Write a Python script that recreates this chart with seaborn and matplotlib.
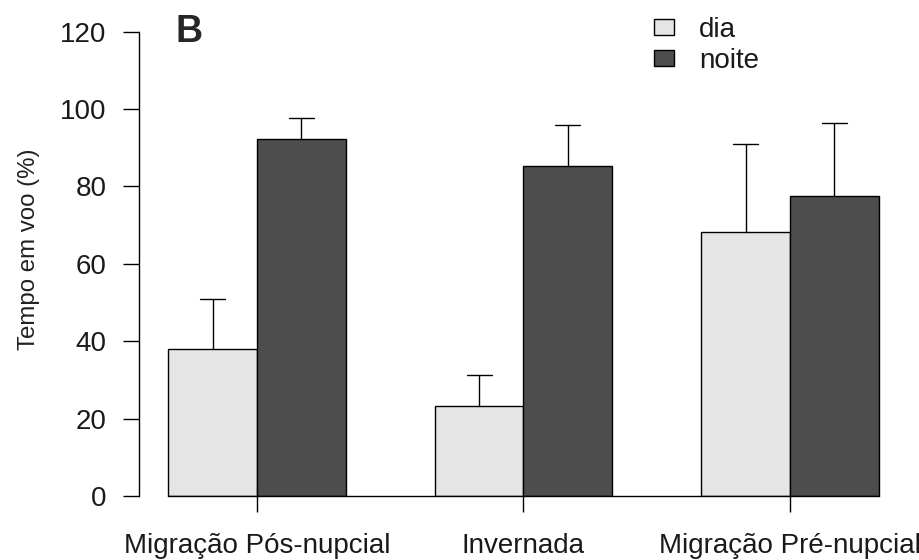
import matplotlib
matplotlib.use("Agg")
import matplotlib.pyplot as plt
from matplotlib.patches import Patch
import seaborn as sns
import pandas as pd

# ---- data ----
categories = ["Migração Pós-nupcial", "Invernada", "Migração Pré-nupcial"]
periods = ["dia", "noite"]
dia = [38.0, 23.3, 68.1]
noite = [92.3, 85.3, 77.5]
dia_err = [13.0, 8.0, 22.8]
noite_err = [5.4, 10.5, 18.8]
yticks = [0, 20, 40, 60, 80, 100, 120]
ylabel = "Tempo em voo (%)"
panel = "B"
colors = ["#e5e5e5", "#4d4d4d"]

df = pd.DataFrame({
    "fase": categories * 2,
    "periodo": ["dia"] * 3 + ["noite"] * 3,
    "valor": dia + noite,
})
errs = {"dia": dia_err, "noite": noite_err}

sns.set_style("ticks")
plt.rcParams["font.family"] = ["Liberation Sans", "DejaVu Sans"]

fig = plt.figure(figsize=(9.2, 5.6), dpi=100)
W, H = 920, 560
ax_l, ax_r, ax_t, ax_b = 139, 905, 31.6, 496
ax = fig.add_axes([ax_l / W, (H - ax_b) / H, (ax_r - ax_l) / W, (ax_b - ax_t) / H])

sns.barplot(data=df, x="fase", y="valor", hue="periodo", order=categories,
            hue_order=periods, palette=colors, edgecolor="black", linewidth=1.0,
            width=2 / 3, errorbar=None, legend=False, saturation=1, ax=ax)

# error bars (upper only)
lefts, rights = [], []
for cont, per in zip(ax.containers, periods):
    for bar, e in zip(cont, errs[per]):
        x = bar.get_x() + bar.get_width() / 2
        top = bar.get_height()
        hw = bar.get_width() * 0.14
        ax.plot([x, x], [top, top + e], color="black", lw=1.0, clip_on=False, zorder=3)
        ax.plot([x - hw, x + hw], [top + e, top + e], color="black", lw=1.0, clip_on=False, zorder=3)
        lefts.append(bar.get_x())
        rights.append(bar.get_x() + bar.get_width())

ax.set_xlim(-118 / 266.5, 648 / 266.5)
ax.set_ylim(0, 120)
ax.set_yticks(yticks)
ax.set_yticklabels([str(t) for t in yticks], fontsize=20)
ax.set_xticks(range(len(categories)))
ax.set_xticklabels(categories, fontsize=20)
ax.set_xlabel("")
ax.set_ylabel(ylabel, fontsize=17.3, color="#222222")
ax.yaxis.set_label_coords((40 - ax_l) / (ax_r - ax_l), (ax_b - 249) / (ax_b - ax_t))

for s in ["top", "right"]:
    ax.spines[s].set_visible(False)
ax.spines["left"].set_bounds(0, 120)
ax.spines["bottom"].set_bounds(min(lefts), max(rights))
for s in ["left", "bottom"]:
    ax.spines[s].set_linewidth(1.0)
    ax.spines[s].set_color("black")
ax.tick_params(axis="both", length=11.5, width=1.0, color="black", labelcolor="#1a1a1a")
ax.tick_params(axis="y", pad=12)
ax.tick_params(axis="x", pad=15)

# panel letter
fig.text(175 / W, 1 - 14 / H, panel, fontsize=27, fontweight="bold", ha="left", va="top")

# legend
handles = [Patch(facecolor=c, edgecolor="black", linewidth=1.0) for c in colors]
leg = ax.legend(handles, periods, loc="upper left",
                bbox_to_anchor=(654 / W, 1 - 17 / H), bbox_transform=fig.transFigure,
                frameon=False, fontsize=20, handlelength=0.71, handleheight=0.54,
                handletextpad=0.9, labelspacing=0.17, borderpad=0, borderaxespad=0)
for t in leg.get_texts():
    t.set_color("#1a1a1a")

fig.savefig("out.png", dpi=100)
